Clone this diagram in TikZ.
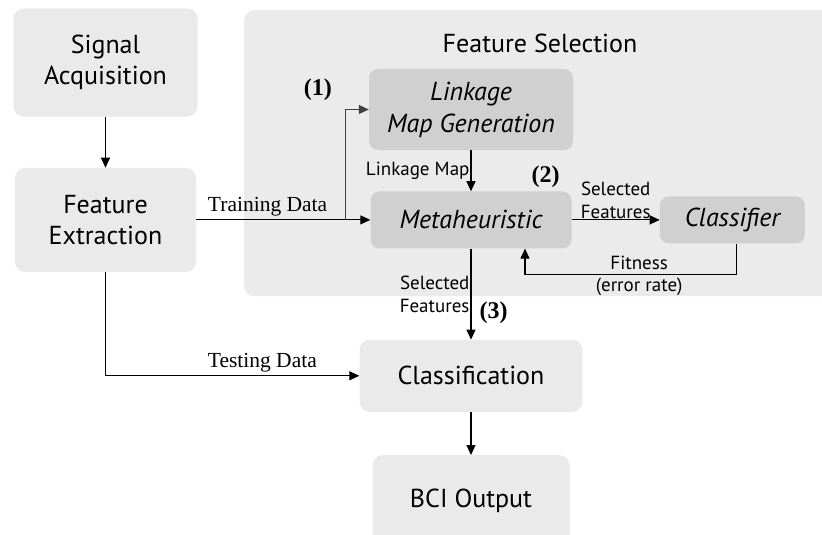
\documentclass[tikz,border=0pt]{standalone}
\usepackage{fontspec}
\setmainfont{PT Sans}
\newfontfamily\labelfont{Liberation Serif}
\usetikzlibrary{positioning,arrows.meta}
\definecolor{boxgray}{HTML}{EAEAEA}
\definecolor{regiongray}{HTML}{EBEBEB}
\definecolor{innergray}{HTML}{D0D0D0}

\begin{document}
\begin{tikzpicture}[x=1pt, y=-1pt,
    stage/.style={rectangle, rounded corners=10pt, fill=boxgray, align=center, inner sep=0pt, font=\fontsize{26}{31}\selectfont},
    inner/.style={rectangle, rounded corners=9pt, fill=innergray, align=center, inner sep=0pt, font=\fontsize{26}{32}\selectfont\itshape},
    flow/.style={-{Triangle[length=10pt,width=9pt]}, line width=1.1pt},
    tag/.style={font=\fontsize{19}{23}\selectfont, inner sep=1pt, align=center},
    datalabel/.style={font=\labelfont\fontsize{21.5}{24}\selectfont, inner sep=1pt},
    marker/.style={font=\labelfont\bfseries\fontsize{24}{24}\selectfont, inner sep=0pt}]
    \clip (0,0) rectangle (822,535);

    % Feature selection region in the background
    \node [rectangle, rounded corners=10pt, fill=regiongray, minimum width=600pt, minimum height=286pt, anchor=north west] (fsel) at (244,10) {};
    \node [stage, fill=none] (fsel-title) at (540,43) {Feature Selection};

    % Main stages on the left and in the middle
    \node [stage, minimum width=184pt, minimum height=108pt] (signal) at (105.5,62.5) {Signal\\Acquisition};
    \node [stage, minimum width=181pt, minimum height=104pt, below=51pt of signal] (feature) {Feature\\Extraction};

    % Inner blocks of the feature selection
    \node [inner, minimum width=204pt, minimum height=81pt] (linkage) at (471,109.5) {Linkage\\Map Generation};
    \node [inner, minimum width=201pt, minimum height=57pt, below=41pt of linkage] (meta) {Metaheuristic};
    \node [inner, minimum width=145pt, minimum height=47pt, right=88pt of meta] (classifier) {Classifier};

    % Classification and output at the bottom
    \node [stage, minimum width=223pt, minimum height=72pt, below=91pt of meta] (classification) {Classification};
    \node [stage, minimum width=197pt, minimum height=91pt, below=43pt of classification] (bci) {BCI Output};

    % Step numbers
    \node [marker] (step1) at ([xshift=-51pt, yshift=19.5pt]linkage.west) {(1)};
    \node [marker] (step2) at ([xshift=-26pt, yshift=14pt]meta.north east) {(2)};

    % Connections
    \draw [flow] (signal) -- (feature);
    \draw [flow] (feature.east |- meta.west) -- node[pos=0.41, above=2pt, datalabel] {Training Data} (meta.west);
    \coordinate (split) at ([xshift=-25pt]meta.west);
    \draw [flow, draw=black!75] (split) |- (linkage.west);
    \draw [flow] (linkage) -- node[midway, left, tag] {Linkage Map} (meta);
    \draw [flow] (meta.east) -- node[midway, above, tag] {Selected\\Features} (meta.east -| classifier.west);
    \draw [flow] ([xshift=4pt]classifier.south) -- ++(0,31)
        -| node[pos=0.23, above=3pt, tag] {Fitness} node[pos=0.23, below=2pt, tag] {(error rate)} ([xshift=54pt]meta.south);
    \draw [flow] (meta) -- node[midway, left, tag, align=right] {Selected\\Features}
        node[pos=0.71, right=8pt, marker] {(3)} (classification);
    \draw [flow] (feature.south) |- node[pos=0.809, above=2pt, datalabel] {Testing Data} (classification.west);
    \draw [flow] (classification) -- (bci);

\end{tikzpicture}
\end{document}
